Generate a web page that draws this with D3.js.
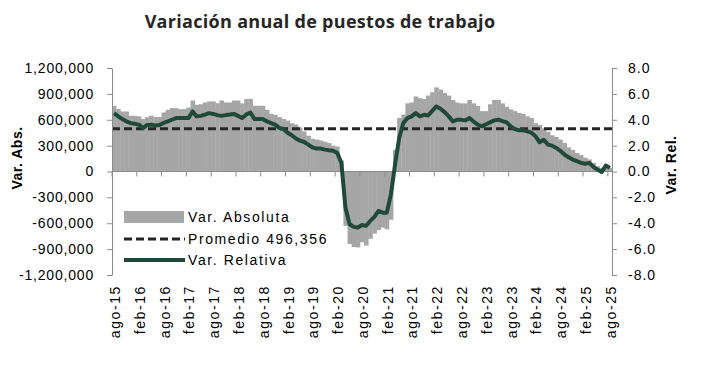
<!DOCTYPE html>
<html>
<head>
<meta charset="utf-8">
<script src="https://cdn.jsdelivr.net/npm/d3@7"></script>
<style>
  body { margin: 0; background: #fff; }
  svg text { font-family: "Liberation Sans", Arial, sans-serif; fill: #000; }
</style>
</head>
<body>
<div id="chart"></div>
<script>
// Variación anual de puestos de trabajo, ago-15 .. ago-25 (monthly)

var monthNames = ["ene", "feb", "mar", "abr", "may", "jun", "jul", "ago", "sep", "oct", "nov", "dic"];

// categories: one per month starting ago-2015
var categories = [];
for (var k = 0; k < 121; k++) {
  var m = (7 + k) % 12, yy = 15 + Math.floor((7 + k) / 12);
  categories.push(monthNames[m] + "-" + yy);
}

// Var. Absoluta (puestos)
var varAbsoluta = [
  762000, 723000, 696000, 696000, 646000, 646000, 640000, 608000, 630000, 646000,
  631000, 631000, 685000, 715000, 735000, 735000, 723000, 723000, 742000, 823000,
  773000, 780000, 800000, 812000, 812000, 792000, 823000, 800000, 800000, 823000,
  823000, 790000, 842000, 842000, 762000, 762000, 762000, 715000, 670000, 658000,
  631000, 610000, 590000, 560000, 545000, 510000, 465000, 415000, 380000, 370000,
  360000, 345000, 330000, 300000, 290000, 130000, -630000, -840000, -877000, -880000,
  -820000, -860000, -780000, -720000, -680000, -650000, -670000, -560000, 250000, 620000,
  660000, 790000, 800000, 870000, 850000, 840000, 880000, 920000, 975000, 950000,
  910000, 880000, 830000, 800000, 790000, 790000, 830000, 790000, 760000, 700000,
  700000, 780000, 830000, 830000, 790000, 750000, 720000, 700000, 680000, 670000,
  640000, 620000, 560000, 540000, 500000, 460000, 420000, 400000, 370000, 330000,
  280000, 250000, 215000, 190000, 160000, 140000, 100000, 60000, 40000, 60000,
  40000
];

// Var. Relativa (%)
var varRelativa = [
  4.51, 4.26, 4.05, 3.87, 3.74, 3.69, 3.62, 3.36, 3.60, 3.62,
  3.55, 3.60, 3.75, 3.87, 4.00, 4.13, 4.13, 4.13, 4.13, 4.64,
  4.26, 4.30, 4.40, 4.51, 4.45, 4.36, 4.30, 4.36, 4.40, 4.45,
  4.30, 4.13, 4.40, 4.56, 4.05, 4.05, 4.05, 3.87, 3.74, 3.62,
  3.36, 3.28, 3.00, 2.80, 2.55, 2.38, 2.28, 2.08, 1.87, 1.77,
  1.77, 1.69, 1.64, 1.60, 1.44, 0.67, -2.80, -4.08, -4.28, -4.33,
  -4.13, -4.20, -3.82, -3.51, -3.05, -3.18, -3.18, -1.77, 0.54, 2.59,
  3.74, 4.13, 4.26, 4.51, 4.26, 4.38, 4.33, 4.69, 5.03, 4.85,
  4.59, 4.26, 3.87, 4.00, 4.00, 3.95, 4.13, 3.87, 3.62, 3.49,
  3.65, 3.80, 3.95, 4.00, 3.90, 3.80, 3.49, 3.28, 3.18, 3.20,
  3.10, 3.00, 2.72, 2.26, 2.45, 2.08, 2.00, 1.82, 1.60, 1.31,
  1.10, 0.92, 0.80, 0.67, 0.60, 0.67, 0.36, 0.15, -0.05, 0.46,
  0.28
];

var promedio = 496356;

var leftTicks = [-1200000, -900000, -600000, -300000, 0, 300000, 600000, 900000, 1200000];
var rightTicks = [-8, -6, -4, -2, 0, 2, 4, 6, 8];

var width = 713, height = 365;
var plot = { left: 112, right: 612, top: 68, bottom: 275 };

var svg = d3.select("#chart").append("svg")
  .attr("width", width)
  .attr("height", height);

var x = d3.scaleBand()
  .domain(categories)
  .range([plot.left, plot.right])
  .padding(0);

var yAbs = d3.scaleLinear()
  .domain([-1200000, 1200000])
  .range([plot.bottom, plot.top]);

var yRel = d3.scaleLinear()
  .domain([-8, 8])
  .range([plot.bottom, plot.top]);

var axisColor = "#8c8c8c";

// title
svg.append("text")
  .attr("x", 320)
  .attr("y", 28)
  .attr("text-anchor", "middle")
  .style("font-family", "'Open Sans', sans-serif")
  .style("font-weight", "bold")
  .style("font-size", "18px")
  .style("letter-spacing", "0.3px")
  .style("fill", "#262626")
  .text("Variación anual de puestos de trabajo");

// bars
svg.append("g")
  .selectAll("rect")
  .data(varAbsoluta)
  .enter()
  .append("rect")
  .attr("x", function (d, i) { return x(categories[i]); })
  .attr("width", x.bandwidth() + 0.4)
  .attr("y", function (d) { return Math.min(yAbs(d), yAbs(0)); })
  .attr("height", function (d) { return Math.abs(yAbs(d) - yAbs(0)); })
  .attr("fill", "#a6a6a6");

// category axis along zero
var xTickCats = categories.filter(function (d, i) { return i % 6 === 0; });

svg.append("line")
  .attr("x1", plot.left).attr("x2", plot.right)
  .attr("y1", yAbs(0)).attr("y2", yAbs(0))
  .attr("stroke", axisColor).attr("stroke-width", 1);

svg.append("g")
  .selectAll("line")
  .data(xTickCats)
  .enter()
  .append("line")
  .attr("x1", function (d) { return x(d); })
  .attr("x2", function (d) { return x(d); })
  .attr("y1", yAbs(0))
  .attr("y2", yAbs(0) + 5)
  .attr("stroke", axisColor);

svg.append("g")
  .selectAll("text")
  .data(xTickCats)
  .enter()
  .append("text")
  .attr("transform", function (d) {
    return "translate(" + (x(d) + x.bandwidth() / 2 + 1) + "," + 285 + ") rotate(-90)";
  })
  .attr("dy", "0.35em")
  .attr("text-anchor", "end")
  .style("font-size", "14px")
  .style("letter-spacing", "1.6px")
  .text(function (d) { return d; });

// average line
svg.append("line")
  .attr("x1", plot.left).attr("x2", plot.right)
  .attr("y1", yAbs(promedio)).attr("y2", yAbs(promedio))
  .attr("stroke", "#262626")
  .attr("stroke-width", 3)
  .attr("stroke-dasharray", "8,4");

// relative line
var line = d3.line()
  .x(function (d, i) { return x(categories[i]) + x.bandwidth() / 2; })
  .y(function (d) { return yRel(d); });

svg.append("path")
  .datum(varRelativa)
  .attr("d", line)
  .attr("fill", "none")
  .attr("stroke", "#1f4a3a")
  .attr("stroke-width", 4)
  .attr("stroke-linejoin", "round");

// left axis
var fmtAbs = function (d) { return d3.format(",")(d).replace("\u2212", "-"); };
var gLeft = svg.append("g")
  .attr("transform", "translate(" + plot.left + ",0)")
  .call(d3.axisLeft(yAbs).tickValues(leftTicks).tickFormat(fmtAbs).tickSize(5).tickSizeOuter(0).tickPadding(13));
gLeft.select(".domain").attr("stroke", axisColor);
gLeft.selectAll(".tick line").attr("stroke", axisColor);
gLeft.selectAll(".tick text")
  .style("font-family", "'Liberation Sans', Arial, sans-serif")
  .style("font-size", "14px")
  .style("letter-spacing", "0.8px")
  .attr("fill", "#000");

// right axis
var fmtRel = function (d) { return d3.format(".1f")(d).replace("\u2212", "-"); };
var gRight = svg.append("g")
  .attr("transform", "translate(" + plot.right + ",0)")
  .call(d3.axisRight(yRel).tickValues(rightTicks).tickFormat(fmtRel).tickSize(5).tickSizeOuter(0).tickPadding(11));
gRight.select(".domain").attr("stroke", axisColor);
gRight.selectAll(".tick line").attr("stroke", axisColor);
gRight.selectAll(".tick text")
  .style("font-family", "'Liberation Sans', Arial, sans-serif")
  .style("font-size", "14px")
  .style("letter-spacing", "1px")
  .attr("fill", "#000");

// axis titles
svg.append("text")
  .attr("transform", "translate(22,158) rotate(-90)")
  .attr("text-anchor", "middle")
  .style("font-weight", "bold")
  .style("font-size", "14px")
  .style("letter-spacing", "0.5px")
  .text("Var. Abs.");

svg.append("text")
  .attr("transform", "translate(676,165) rotate(-90)")
  .attr("text-anchor", "middle")
  .style("font-weight", "bold")
  .style("font-size", "14px")
  .style("letter-spacing", "0.5px")
  .text("Var. Rel.");

// legend
var legend = svg.append("g");
var legendItems = [
  { label: "Var. Absoluta", y: 217 },
  { label: "Promedio 496,356", y: 239 },
  { label: "Var. Relativa", y: 260 }
];

legend.append("rect")
  .attr("x", 124).attr("y", 211)
  .attr("width", 60).attr("height", 12)
  .attr("fill", "#a6a6a6");

legend.append("line")
  .attr("x1", 124).attr("x2", 185)
  .attr("y1", 239).attr("y2", 239)
  .attr("stroke", "#262626")
  .attr("stroke-width", 3)
  .attr("stroke-dasharray", "8,4");

legend.append("line")
  .attr("x1", 124).attr("x2", 185)
  .attr("y1", 260).attr("y2", 260)
  .attr("stroke", "#1f4a3a")
  .attr("stroke-width", 4);

legend.selectAll("text")
  .data(legendItems)
  .enter()
  .append("text")
  .attr("x", 188)
  .attr("y", function (d) { return d.y; })
  .attr("dy", "0.35em")
  .style("font-size", "14px")
  .style("letter-spacing", "1.6px")
  .text(function (d) { return d.label; });
</script>
</body>
</html>
